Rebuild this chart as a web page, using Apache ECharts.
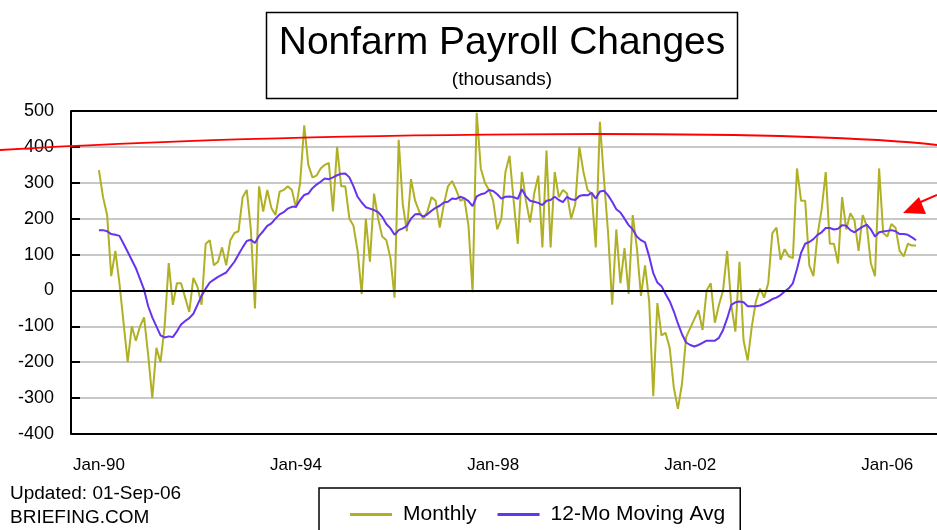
<!DOCTYPE html>
<html>
<head>
<meta charset="utf-8">
<script src="https://cdn.jsdelivr.net/npm/echarts@6/dist/echarts.min.js"></script>
<style>
html,body{margin:0;padding:0;background:#fff;}
#chart{width:937px;height:530px;}
</style>
</head>
<body>
<div id="chart"></div>
<script>
// Monthly nonfarm payroll changes (thousands), Jan-1990 .. Aug-2006
const monthly = [
 335,260,210,40,110,20,-90,-200,-100,-140,-100,-75,
 -180,-300,-160,-200,-100,76,-40,20,20,-20,-60,35,
 10,-40,130,140,70,80,120,70,140,160,165,260,
 280,170,-50,290,220,280,230,210,275,280,290,280,
 230,300,460,350,315,320,340,350,355,220,400,290,
 290,200,180,110,-10,200,80,270,200,150,140,90,
 -20,420,240,165,310,250,220,200,220,260,250,175,
 240,290,305,280,250,255,180,-5,495,340,300,280,
 250,170,200,330,375,250,130,330,250,190,270,320,
 120,390,120,330,260,280,270,200,240,400,330,280,
 270,120,470,310,160,-40,170,20,118,-10,210,120,
 -15,70,-30,-295,-35,-125,-118,-160,-270,-330,-260,-130,
 -105,-80,-55,-110,0,20,-90,-40,0,110,-40,-115,
 80,-140,-195,-100,-30,5,-20,20,160,175,85,115,
 95,90,340,250,250,70,40,155,225,330,130,130,
 75,260,170,215,195,110,210,180,75,40,340,160,
 150,185,175,110,95,130,125,125
];
// 12-month moving average (thousands)
const movingAvg = [
 168,168,165,157,155,152,130,108,85,62,32,2,
 -44,-75,-100,-125,-131,-128,-130,-114,-95,-85,-77,-65,
 -40,-15,5,22,30,38,44,50,65,80,100,120,
 138,141,132,152,165,180,187,200,212,218,228,233,
 233,252,266,270,285,295,303,312,310,315,321,325,
 326,315,290,261,245,232,228,224,218,205,185,173,
 155,168,173,180,200,212,213,206,212,222,230,236,
 245,247,256,255,261,257,249,235,262,268,271,280,
 277,268,256,261,262,260,255,282,262,250,247,244,
 238,250,252,261,252,246,261,254,252,263,266,265,
 272,256,276,278,265,247,226,217,200,182,170,150,
 140,134,95,48,22,12,-10,-30,-58,-92,-122,-145,
 -152,-156,-152,-146,-140,-140,-140,-132,-110,-78,-40,-33,
 -31,-33,-44,-44,-44,-42,-37,-31,-24,-20,-13,-3,
 6,20,60,105,130,135,143,155,162,174,174,170,
 172,182,180,168,162,170,178,183,170,150,162,164,
 166,168,165,157,157,155,148,140
];
const tickIndex = [0, 48, 96, 144, 192];
const tickLabels = ['Jan-90', 'Jan-94', 'Jan-98', 'Jan-02', 'Jan-06'];
const seriesNames = ['Monthly', '12-Mo Moving Avg'];

const FONT = "'Liberation Sans', Arial, sans-serif";
const monthlyData = monthly.map((v, i) => [i, v]);
const maData = movingAvg.map((v, i) => [i, v]);

const chart = echarts.init(document.getElementById('chart'), null, {renderer: 'canvas'});
chart.setOption({
  animation: false,
  backgroundColor: '#fff',
  textStyle: {fontFamily: FONT},
  grid: {left: 71, right: 0, top: 111, bottom: 96, containLabel: false},
  legend: {
    data: seriesNames,
    left: 319, top: 488,
    orient: 'horizontal',
    padding: [16, 15, 24, 31],
    itemGap: 21,
    itemWidth: 42, itemHeight: 3,
    icon: 'rect',
    borderColor: '#000', borderWidth: 1.5,
    textStyle: {fontSize: 21, color: '#000', fontFamily: FONT, padding: [0, 0, 0, 6]},
    selectedMode: false
  },
  xAxis: {
    type: 'value',
    min: -6.8, max: 204.1,
    axisLine: {show: false},
    axisTick: {show: false},
    splitLine: {show: false},
    axisLabel: {
      customValues: tickIndex,
      formatter: v => tickLabels[tickIndex.indexOf(Math.round(v))] || '',
      fontSize: 17, color: '#000', margin: 23, fontFamily: FONT
    }
  },
  yAxis: {
    type: 'value',
    min: -400, max: 500, interval: 100,
    axisLine: {show: true, onZero: false, lineStyle: {color: '#000', width: 2}},
    axisTick: {show: true, inside: true, length: 9, lineStyle: {color: '#000', width: 2}},
    axisLabel: {fontSize: 18, color: '#000', margin: 17, fontFamily: FONT},
    splitLine: {show: true, lineStyle: {color: '#c8c8c8', width: 2}}
  },
  series: [
    {
      name: seriesNames[0], type: 'line', data: monthlyData,
      showSymbol: false, symbol: 'none',
      lineStyle: {color: '#b0b026', width: 2},
      itemStyle: {color: '#b0b026'},
      z: 3,
      markLine: {
        silent: true, symbol: ['none', 'none'],
        label: {show: false},
        lineStyle: {color: '#000', width: 2, type: 'solid'},
        data: [{yAxis: 0}, {yAxis: 500}, {yAxis: -400}]
      }
    },
    {
      name: seriesNames[1], type: 'line', data: maData,
      showSymbol: false, symbol: 'none',
      lineStyle: {color: '#6633ee', width: 2},
      itemStyle: {color: '#6633ee'},
      z: 4
    }
  ],
  graphic: [
    {type: 'rect', shape: {x: 266.5, y: 12.5, width: 471, height: 86},
     style: {fill: '#fff', stroke: '#000', lineWidth: 1.5}, z: 10},
    {type: 'text', x: 502, y: 43, z: 11,
     style: {text: 'Nonfarm Payroll Changes', font: "39px 'Liberation Sans', Arial, sans-serif",
             fill: '#000', textAlign: 'center', textVerticalAlign: 'middle'}},
    {type: 'text', x: 502, y: 80, z: 11,
     style: {text: '(thousands)', font: "19px 'Liberation Sans', Arial, sans-serif",
             fill: '#000', textAlign: 'center', textVerticalAlign: 'middle'}},
    {type: 'text', x: 10, y: 494, z: 11,
     style: {text: 'Updated: 01-Sep-06', font: "19px 'Liberation Sans', Arial, sans-serif",
             fill: '#000', textAlign: 'left', textVerticalAlign: 'middle'}},
    {type: 'text', x: 10, y: 518, z: 11,
     style: {text: 'BRIEFING.COM', font: "19px 'Liberation Sans', Arial, sans-serif",
             fill: '#000', textAlign: 'left', textVerticalAlign: 'middle'}},
    {type: 'bezierCurve', z: 20,
     shape: {x1: 0, y1: 150, cpx1: 300, cpy1: 132, cpx2: 780, cpy2: 128, x2: 937, y2: 145},
     style: {stroke: '#ff0000', lineWidth: 2, fill: 'none'}},
    {type: 'line', z: 20,
     shape: {x1: 937, y1: 195, x2: 916, y2: 204},
     style: {stroke: '#ff0000', lineWidth: 2}},
    {type: 'polygon', z: 20,
     shape: {points: [[903, 213], [919, 197], [926, 214]]},
     style: {fill: '#ff0000'}}
  ]
});
</script>
</body>
</html>
